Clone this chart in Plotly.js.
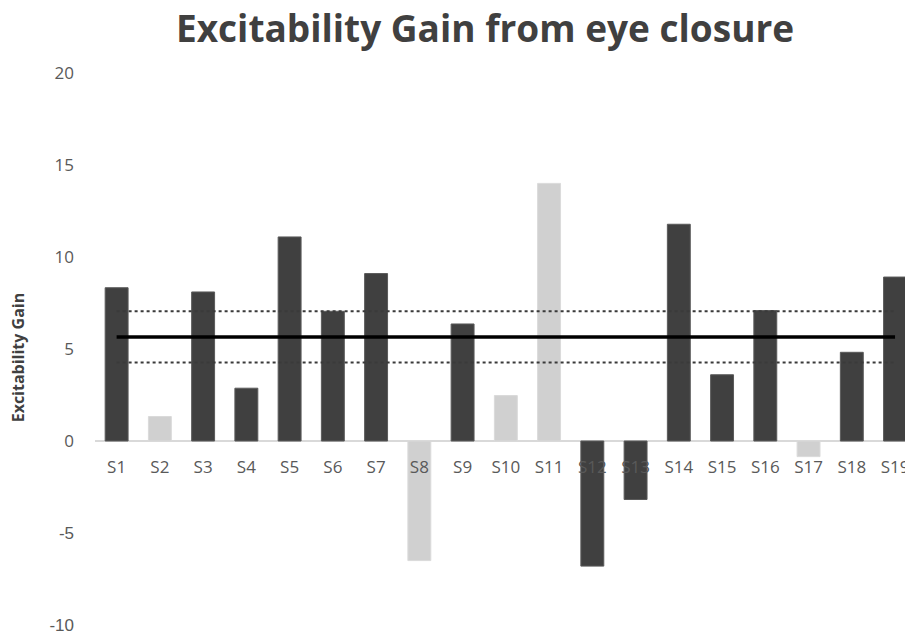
<!DOCTYPE html>
<html>
<head>
<meta charset="utf-8">
<script src="https://cdn.plot.ly/plotly-3.0.1.min.js"></script>
<style>html,body{margin:0;padding:0;background:#fff;}#chart{width:905px;height:637px;}</style>
</head>
<body>
<div id="chart"></div>
<script>
// Data
const subjects = ['S1','S2','S3','S4','S5','S6','S7','S8','S9','S10','S11','S12','S13','S14','S15','S16','S17','S18','S19'];
const gains = [8.33, 1.33, 8.1, 2.87, 11.09, 7.05, 9.1, -6.5, 6.36, 2.47, 14.0, -6.8, -3.18, 11.78, 3.6, 7.09, -0.85, 4.82, 8.91];
// group: 'dark' = dark bars, 'light' = light grey bars
const groups = ['dark','light','dark','dark','dark','dark','dark','light','dark','light','light','dark','dark','dark','dark','dark','light','dark','dark'];
const meanGain = 5.65;
const upperBound = 7.05;
const lowerBound = 4.27;
const yTickVals = [-10, -5, 0, 5, 10, 15, 20];
const yTickText = ['-10', '-5', '0', '5', '10', '15', '20'];

const colorMap = {dark: '#404040', light: '#d0d0d0'};
const lineMap = {dark: '#5a5a5a', light: '#dadada'};

const lineX = [subjects[0], subjects[subjects.length - 1]];

const traces = [
  {
    type: 'bar',
    x: subjects,
    y: gains,
    marker: {
      color: groups.map(g => colorMap[g]),
      line: {color: groups.map(g => lineMap[g]), width: 1}
    },
    showlegend: false,
    hoverinfo: 'skip'
  },
  {
    type: 'scatter', mode: 'lines',
    x: lineX, y: [upperBound, upperBound],
    line: {color: '#3a3a3a', width: 2, dash: 'dot'},
    showlegend: false, hoverinfo: 'skip'
  },
  {
    type: 'scatter', mode: 'lines',
    x: lineX, y: [lowerBound, lowerBound],
    line: {color: '#3a3a3a', width: 2, dash: 'dot'},
    showlegend: false, hoverinfo: 'skip'
  },
  {
    type: 'scatter', mode: 'lines',
    x: lineX, y: [meanGain, meanGain],
    line: {color: '#000000', width: 3.5},
    showlegend: false, hoverinfo: 'skip'
  }
];

const yTickDisplay = yTickText.map(t => t.charAt(0) === '-' ? '<span style="font-family:\'Liberation Sans\', Arial, sans-serif">' + t + '</span>' : t);

const layout = {
  width: 905,
  height: 637,
  margin: {l: 95, r: 0, t: 73, b: 12},
  paper_bgcolor: '#ffffff',
  plot_bgcolor: '#ffffff',
  bargap: 0.47,
  font: {family: '"Open Sans", sans-serif', color: '#595959'},
  title: {
    text: 'Excitability Gain from eye closure',
    font: {family: '"Open Sans", sans-serif', size: 37, color: '#404040', weight: 'bold'},
    xref: 'container', x: 0.536, xanchor: 'center',
    yref: 'container', y: 0.955, yanchor: 'middle'
  },
  xaxis: {
    type: 'category',
    range: [-0.5, 18.23],
    anchor: 'free',
    position: 1/3,
    showline: false,
    showgrid: false,
    zeroline: false,
    ticks: '',
    ticklabelstandoff: 14,
    tickfont: {size: 17, color: '#595959'},
    layer: 'above traces',
    fixedrange: true
  },
  yaxis: {
    range: [-10, 20],
    tickvals: yTickVals,
    ticktext: yTickDisplay,
    showgrid: false,
    zeroline: true,
    zerolinecolor: '#d9d9d9',
    zerolinewidth: 2,
    showline: false,
    ticks: '',
    ticklabelstandoff: 20,
    tickfont: {size: 17, color: '#595959'},
    fixedrange: true
  },
  annotations: [
    {
      text: 'Excitability Gain',
      xref: 'paper', yref: 'paper',
      x: -0.095, y: 0.485,
      xanchor: 'center', yanchor: 'middle',
      textangle: -90,
      showarrow: false,
      font: {family: '"Open Sans", sans-serif', size: 16, color: '#404040', weight: 'bold'}
    }
  ],
  hovermode: false
};

Plotly.newPlot('chart', traces, layout, {displayModeBar: false, staticPlot: true});
</script>
</body>
</html>
